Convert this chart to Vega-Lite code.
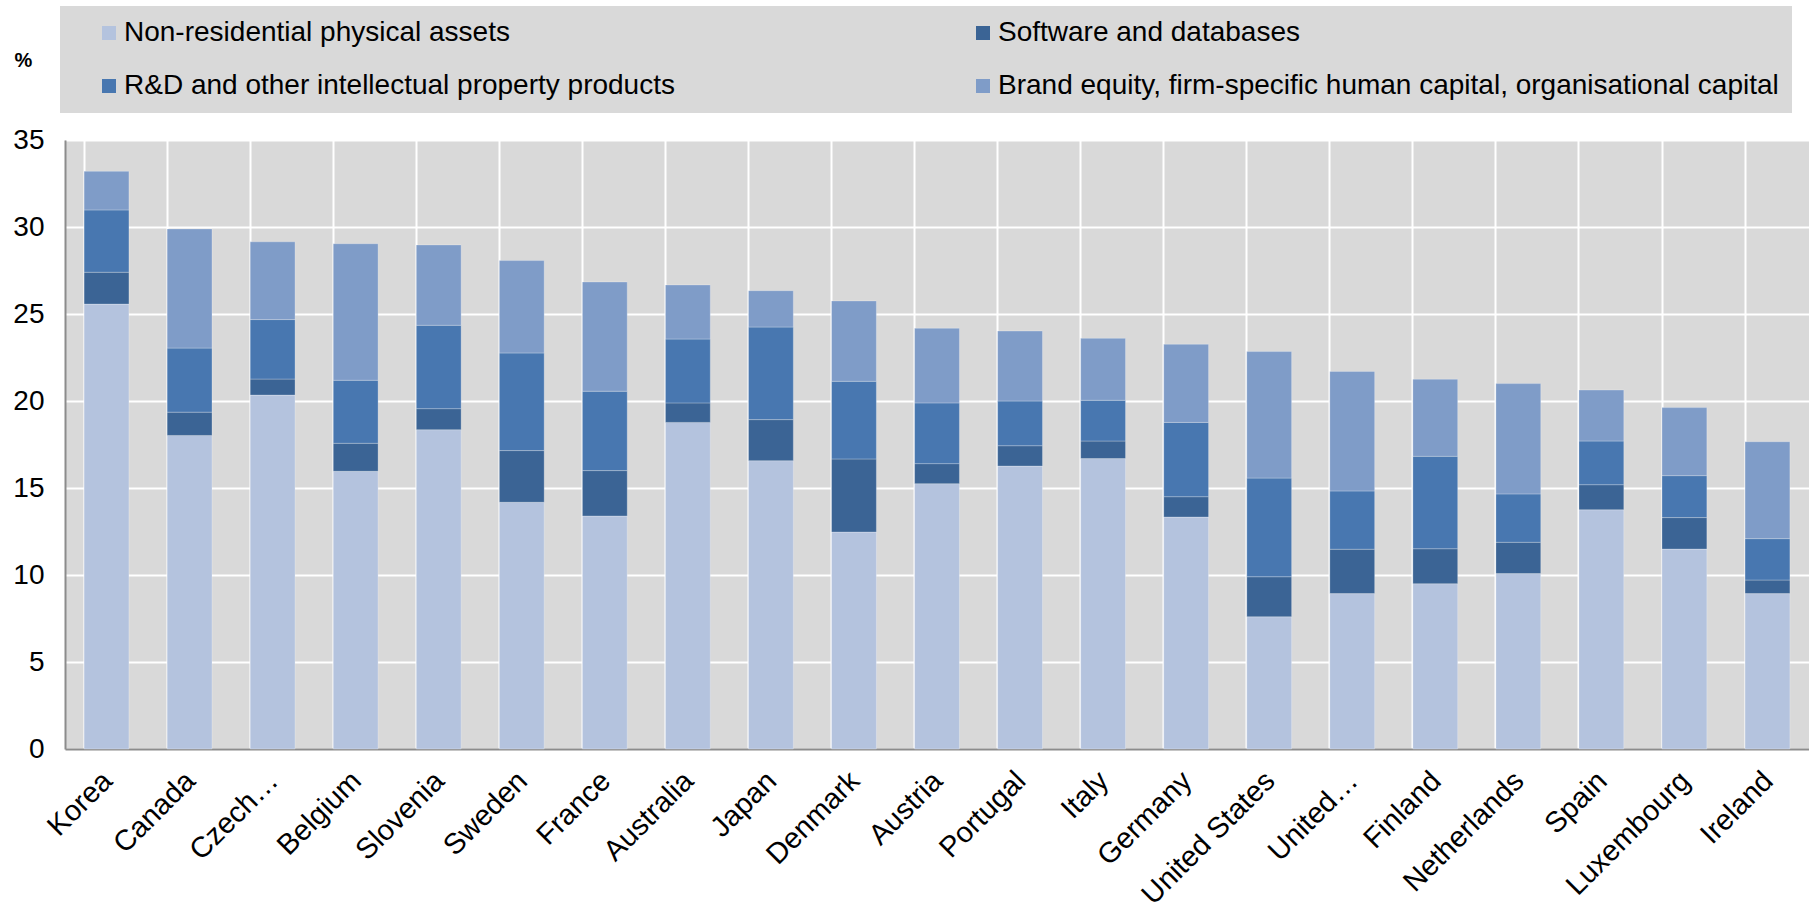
{
  "$schema": "https://vega.github.io/schema/vega-lite/v6.json",
  "width": 1744,
  "height": 609,
  "autosize": {"type": "none"},
  "padding": {"left": 65, "top": 140, "right": 0, "bottom": 158},
  "background": "#ffffff",
  "config": {"view": {"fill": "#d9d9d9", "stroke": null}, "font": "Liberation Sans"},
  "data": {"values": [
    {"c": "Korea", "k": "Non-residential physical assets", "o": 1, "v": 25.57},
    {"c": "Korea", "k": "Software and databases", "o": 2, "v": 1.83},
    {"c": "Korea", "k": "R&D and other intellectual property products", "o": 3, "v": 3.58},
    {"c": "Korea", "k": "Brand equity, firm-specific human capital, organisational capital", "o": 4, "v": 2.22},
    {"c": "Canada", "k": "Non-residential physical assets", "o": 1, "v": 18.02},
    {"c": "Canada", "k": "Software and databases", "o": 2, "v": 1.34},
    {"c": "Canada", "k": "R&D and other intellectual property products", "o": 3, "v": 3.68},
    {"c": "Canada", "k": "Brand equity, firm-specific human capital, organisational capital", "o": 4, "v": 6.85},
    {"c": "Czech Republic", "k": "Non-residential physical assets", "o": 1, "v": 20.34},
    {"c": "Czech Republic", "k": "Software and databases", "o": 2, "v": 0.92},
    {"c": "Czech Republic", "k": "R&D and other intellectual property products", "o": 3, "v": 3.42},
    {"c": "Czech Republic", "k": "Brand equity, firm-specific human capital, organisational capital", "o": 4, "v": 4.47},
    {"c": "Belgium", "k": "Non-residential physical assets", "o": 1, "v": 15.96},
    {"c": "Belgium", "k": "Software and databases", "o": 2, "v": 1.61},
    {"c": "Belgium", "k": "R&D and other intellectual property products", "o": 3, "v": 3.62},
    {"c": "Belgium", "k": "Brand equity, firm-specific human capital, organisational capital", "o": 4, "v": 7.85},
    {"c": "Slovenia", "k": "Non-residential physical assets", "o": 1, "v": 18.35},
    {"c": "Slovenia", "k": "Software and databases", "o": 2, "v": 1.21},
    {"c": "Slovenia", "k": "R&D and other intellectual property products", "o": 3, "v": 4.79},
    {"c": "Slovenia", "k": "Brand equity, firm-specific human capital, organisational capital", "o": 4, "v": 4.62},
    {"c": "Sweden", "k": "Non-residential physical assets", "o": 1, "v": 14.18},
    {"c": "Sweden", "k": "Software and databases", "o": 2, "v": 2.97},
    {"c": "Sweden", "k": "R&D and other intellectual property products", "o": 3, "v": 5.61},
    {"c": "Sweden", "k": "Brand equity, firm-specific human capital, organisational capital", "o": 4, "v": 5.31},
    {"c": "France", "k": "Non-residential physical assets", "o": 1, "v": 13.39},
    {"c": "France", "k": "Software and databases", "o": 2, "v": 2.61},
    {"c": "France", "k": "R&D and other intellectual property products", "o": 3, "v": 4.56},
    {"c": "France", "k": "Brand equity, firm-specific human capital, organisational capital", "o": 4, "v": 6.28},
    {"c": "Australia", "k": "Non-residential physical assets", "o": 1, "v": 18.77},
    {"c": "Australia", "k": "Software and databases", "o": 2, "v": 1.12},
    {"c": "Australia", "k": "R&D and other intellectual property products", "o": 3, "v": 3.67},
    {"c": "Australia", "k": "Brand equity, firm-specific human capital, organisational capital", "o": 4, "v": 3.11},
    {"c": "Japan", "k": "Non-residential physical assets", "o": 1, "v": 16.57},
    {"c": "Japan", "k": "Software and databases", "o": 2, "v": 2.36},
    {"c": "Japan", "k": "R&D and other intellectual property products", "o": 3, "v": 5.32},
    {"c": "Japan", "k": "Brand equity, firm-specific human capital, organisational capital", "o": 4, "v": 2.09},
    {"c": "Denmark", "k": "Non-residential physical assets", "o": 1, "v": 12.47},
    {"c": "Denmark", "k": "Software and databases", "o": 2, "v": 4.2},
    {"c": "Denmark", "k": "R&D and other intellectual property products", "o": 3, "v": 4.46},
    {"c": "Denmark", "k": "Brand equity, firm-specific human capital, organisational capital", "o": 4, "v": 4.62},
    {"c": "Austria", "k": "Non-residential physical assets", "o": 1, "v": 15.25},
    {"c": "Austria", "k": "Software and databases", "o": 2, "v": 1.15},
    {"c": "Austria", "k": "R&D and other intellectual property products", "o": 3, "v": 3.49},
    {"c": "Austria", "k": "Brand equity, firm-specific human capital, organisational capital", "o": 4, "v": 4.29},
    {"c": "Portugal", "k": "Non-residential physical assets", "o": 1, "v": 16.26},
    {"c": "Portugal", "k": "Software and databases", "o": 2, "v": 1.17},
    {"c": "Portugal", "k": "R&D and other intellectual property products", "o": 3, "v": 2.57},
    {"c": "Portugal", "k": "Brand equity, firm-specific human capital, organisational capital", "o": 4, "v": 4.02},
    {"c": "Italy", "k": "Non-residential physical assets", "o": 1, "v": 16.69},
    {"c": "Italy", "k": "Software and databases", "o": 2, "v": 1.01},
    {"c": "Italy", "k": "R&D and other intellectual property products", "o": 3, "v": 2.34},
    {"c": "Italy", "k": "Brand equity, firm-specific human capital, organisational capital", "o": 4, "v": 3.56},
    {"c": "Germany", "k": "Non-residential physical assets", "o": 1, "v": 13.33},
    {"c": "Germany", "k": "Software and databases", "o": 2, "v": 1.17},
    {"c": "Germany", "k": "R&D and other intellectual property products", "o": 3, "v": 4.27},
    {"c": "Germany", "k": "Brand equity, firm-specific human capital, organisational capital", "o": 4, "v": 4.49},
    {"c": "United States", "k": "Non-residential physical assets", "o": 1, "v": 7.6},
    {"c": "United States", "k": "Software and databases", "o": 2, "v": 2.3},
    {"c": "United States", "k": "R&D and other intellectual property products", "o": 3, "v": 5.67},
    {"c": "United States", "k": "Brand equity, firm-specific human capital, organisational capital", "o": 4, "v": 7.27},
    {"c": "United Kingdom", "k": "Non-residential physical assets", "o": 1, "v": 8.93},
    {"c": "United Kingdom", "k": "Software and databases", "o": 2, "v": 2.55},
    {"c": "United Kingdom", "k": "R&D and other intellectual property products", "o": 3, "v": 3.35},
    {"c": "United Kingdom", "k": "Brand equity, firm-specific human capital, organisational capital", "o": 4, "v": 6.87},
    {"c": "Finland", "k": "Non-residential physical assets", "o": 1, "v": 9.5},
    {"c": "Finland", "k": "Software and databases", "o": 2, "v": 2.01},
    {"c": "Finland", "k": "R&D and other intellectual property products", "o": 3, "v": 5.31},
    {"c": "Finland", "k": "Brand equity, firm-specific human capital, organisational capital", "o": 4, "v": 4.43},
    {"c": "Netherlands", "k": "Non-residential physical assets", "o": 1, "v": 10.08},
    {"c": "Netherlands", "k": "Software and databases", "o": 2, "v": 1.8},
    {"c": "Netherlands", "k": "R&D and other intellectual property products", "o": 3, "v": 2.78},
    {"c": "Netherlands", "k": "Brand equity, firm-specific human capital, organisational capital", "o": 4, "v": 6.34},
    {"c": "Spain", "k": "Non-residential physical assets", "o": 1, "v": 13.75},
    {"c": "Spain", "k": "Software and databases", "o": 2, "v": 1.44},
    {"c": "Spain", "k": "R&D and other intellectual property products", "o": 3, "v": 2.51},
    {"c": "Spain", "k": "Brand equity, firm-specific human capital, organisational capital", "o": 4, "v": 2.93},
    {"c": "Luxembourg", "k": "Non-residential physical assets", "o": 1, "v": 11.49},
    {"c": "Luxembourg", "k": "Software and databases", "o": 2, "v": 1.81},
    {"c": "Luxembourg", "k": "R&D and other intellectual property products", "o": 3, "v": 2.41},
    {"c": "Luxembourg", "k": "Brand equity, firm-specific human capital, organisational capital", "o": 4, "v": 3.91},
    {"c": "Ireland", "k": "Non-residential physical assets", "o": 1, "v": 8.93},
    {"c": "Ireland", "k": "Software and databases", "o": 2, "v": 0.78},
    {"c": "Ireland", "k": "R&D and other intellectual property products", "o": 3, "v": 2.38},
    {"c": "Ireland", "k": "Brand equity, firm-specific human capital, organisational capital", "o": 4, "v": 5.57}
  ]},
  "mark": {"type": "bar", "stroke": "#ffffff", "strokeOpacity": 0.25, "strokeWidth": 1},
  "encoding": {
    "x": {
      "field": "c", "type": "nominal", "sort": null,
      "scale": {"paddingInner": 0.46, "paddingOuter": 0.23},
      "axis": {
        "title": null, "labelAngle": -45, "labelFontSize": 29, "labelColor": "#000000",
        "labelPadding": 17, "labelOffset": -9, "labelLimit": 0, "ticks": false,
        "domainColor": "#8c8c8c", "domainWidth": 2,
        "grid": true, "gridColor": "#ffffff", "gridWidth": 2, "bandPosition": 0,
        "labelExpr": "datum.value == 'Czech Republic' ? 'Czech…' : datum.value == 'United Kingdom' ? 'United…' : datum.value"
      }
    },
    "y": {
      "field": "v", "type": "quantitative", "stack": "zero",
      "scale": {"domain": [0, 35], "nice": false},
      "axis": {
        "title": "%", "titleAngle": 0, "titleFontSize": 20, "titleFontWeight": "bold",
        "titleColor": "#000000", "titleX": -42, "titleY": -80, "titleAlign": "center", "titleBaseline": "middle",
        "values": [0, 5, 10, 15, 20, 25, 30, 35],
        "labelFontSize": 28, "labelColor": "#000000", "labelPadding": 21, "ticks": false,
        "domainColor": "#8c8c8c", "domainWidth": 2,
        "grid": true, "gridColor": "#ffffff", "gridWidth": 2
      }
    },
    "color": {
      "field": "k", "type": "nominal",
      "scale": {
        "domain": ["Non-residential physical assets", "R&D and other intellectual property products", "Software and databases", "Brand equity, firm-specific human capital, organisational capital"],
        "range": ["#b4c3de", "#4877b0", "#3b6495", "#7f9cc8"]
      },
      "legend": {
        "orient": "none", "legendX": -5, "legendY": -134, "columns": 2, "title": null,
        "fillColor": "#d9d9d9", "padding": 13, "symbolType": "square", "symbolSize": 196,
        "symbolStrokeWidth": 0, "symbolOffset": 22, "labelFontSize": 28, "labelColor": "#000000",
        "labelOffset": 1, "columnPadding": 272, "rowPadding": 25, "labelLimit": 0
      }
    },
    "order": {"field": "o", "type": "quantitative"}
  }
}
